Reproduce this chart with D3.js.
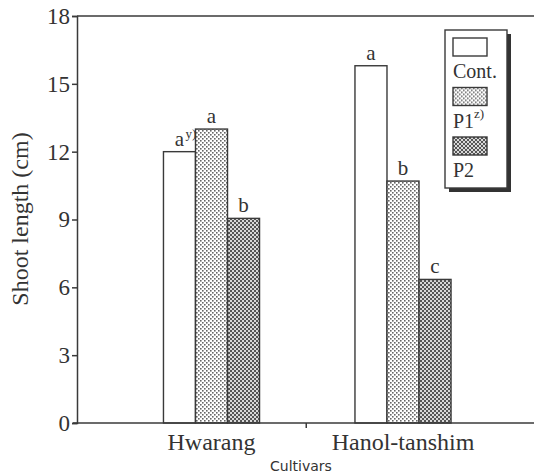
<!DOCTYPE html>
<html>
<head>
<meta charset="utf-8">
<script src="https://cdn.jsdelivr.net/npm/d3@7"></script>
<style>
  body { margin: 0; background: #fff; }
  svg text { font-family: "Liberation Serif", "Times New Roman", serif; fill: #333; }
</style>
</head>
<body>
<svg id="chart" width="534" height="476"></svg>
<script>
// values
var cultivars = ["Hwarang", "Hanol-tanshim"];
var treatments = ["Cont.", "P1", "P2"];
var hwarang = [12.0, 13.0, 9.05];
var hanolTanshim = [15.8, 10.7, 6.35];
var letters = [["a", "a", "b"], ["a", "b", "c"]];
var yTicks = [0, 3, 6, 9, 12, 15, 18];

var values = [hwarang, hanolTanshim];
var data = [];
cultivars.forEach(function(c, i) {
  treatments.forEach(function(t, j) {
    data.push({ cultivar: c, treatment: t, value: values[i][j], letter: letters[i][j] });
  });
});

var svg = d3.select("#chart");
var plotLeft = 77, plotRight = 534, plotTop = 16, plotBottom = 423;
var ink = "#3a3a3a";

var defs = svg.append("defs");
var p1 = defs.append("pattern").attr("id", "p1").attr("patternUnits", "userSpaceOnUse")
  .attr("width", 4).attr("height", 4);
p1.append("rect").attr("width", 4).attr("height", 4).attr("fill", "#fff");
p1.append("rect").attr("x", 0).attr("y", 0).attr("width", 1.6).attr("height", 1.6).attr("fill", "#666");
p1.append("rect").attr("x", 2).attr("y", 2).attr("width", 1.6).attr("height", 1.6).attr("fill", "#666");

var p2 = defs.append("pattern").attr("id", "p2").attr("patternUnits", "userSpaceOnUse")
  .attr("width", 4).attr("height", 4);
p2.append("rect").attr("width", 4).attr("height", 4).attr("fill", "#d8d8d8");
p2.append("rect").attr("x", 0).attr("y", 0).attr("width", 2).attr("height", 2).attr("fill", "#555");
p2.append("rect").attr("x", 2).attr("y", 2).attr("width", 2).attr("height", 2).attr("fill", "#555");

var fills = d3.scaleOrdinal().domain(treatments).range(["#fff", "url(#p1)", "url(#p2)"]);

var y = d3.scaleLinear().domain([0, 18]).range([plotBottom, plotTop]);
var x = d3.scaleBand().domain(cultivars).range([115.75, 498.75]).paddingInner(0).paddingOuter(0);
var xs = d3.scaleBand().domain(treatments).range([0, x.bandwidth()]).paddingInner(0).paddingOuter(1.49);

// top frame line
svg.append("line").attr("x1", plotLeft).attr("x2", plotRight).attr("y1", plotTop).attr("y2", plotTop)
  .attr("stroke", ink).attr("stroke-width", 1.5);

// bars
svg.selectAll(".bar").data(data).enter().append("rect")
  .attr("class", "bar")
  .attr("x", function(d) { return x(d.cultivar) + xs(d.treatment); })
  .attr("y", function(d) { return y(d.value); })
  .attr("width", xs.bandwidth())
  .attr("height", function(d) { return y(0) - y(d.value); })
  .attr("fill", function(d) { return fills(d.treatment); })
  .attr("stroke", ink).attr("stroke-width", 1.4);

// significance letters
svg.selectAll(".letter").data(data).enter().append("text")
  .attr("class", "letter")
  .attr("x", function(d) { return x(d.cultivar) + xs(d.treatment) + xs.bandwidth() / 2; })
  .attr("y", function(d) { return y(d.value) - 6; })
  .attr("text-anchor", "middle")
  .style("font-size", "21px")
  .text(function(d) { return d.letter; });

svg.append("text")
  .attr("x", x(cultivars[0]) + xs(treatments[0]) + xs.bandwidth() / 2 + 6)
  .attr("y", y(hwarang[0]) - 14)
  .style("font-size", "13px")
  .text("y)");

// y axis
var yAxis = svg.append("g")
  .attr("transform", "translate(" + plotLeft + ",0)")
  .call(d3.axisLeft(y).tickValues(yTicks).tickSize(5).tickPadding(2));
yAxis.select(".domain").attr("stroke", ink).attr("stroke-width", 1.5);
yAxis.selectAll(".tick line").attr("stroke", ink).attr("stroke-width", 1.5);
yAxis.selectAll(".tick text").style("font-size", "23px").attr("fill", "#333")
  .style("font-family", "Liberation Serif, serif");

// x axis
svg.append("line").attr("x1", plotLeft - 4).attr("x2", plotRight).attr("y1", plotBottom).attr("y2", plotBottom)
  .attr("stroke", ink).attr("stroke-width", 1.5);
svg.append("line")
  .attr("x1", x(cultivars[1]) - 1).attr("x2", x(cultivars[1]) - 1)
  .attr("y1", plotBottom).attr("y2", plotBottom + 5)
  .attr("stroke", ink).attr("stroke-width", 1.5);

svg.selectAll(".xlab").data(cultivars).enter().append("text")
  .attr("class", "xlab")
  .attr("x", function(d) { return x(d) + x.bandwidth() / 2; })
  .attr("y", 450)
  .attr("text-anchor", "middle")
  .style("font-size", "24px")
  .text(function(d) { return d; });

svg.append("text")
  .attr("x", 270).attr("y", 471)
  .style("font-family", "DejaVu Sans, sans-serif")
  .style("font-size", "14px")
  .text("Cultivars");

svg.append("text")
  .attr("transform", "translate(28,219) rotate(-90)")
  .attr("text-anchor", "middle")
  .style("font-size", "24px")
  .text("Shoot length (cm)");

// legend
var lg = svg.append("g").attr("transform", "translate(445,30)");
lg.append("rect").attr("x", 4).attr("y", 4).attr("width", 62).attr("height", 158).attr("fill", "#333");
lg.append("rect").attr("x", 0).attr("y", 0).attr("width", 62).attr("height", 158)
  .attr("fill", "#fff").attr("stroke", ink).attr("stroke-width", 1.4);
var li = lg.selectAll(".li").data(treatments).enter().append("g")
  .attr("transform", function(d, i) { return "translate(8," + (8 + i * 49.5) + ")"; });
li.append("rect").attr("width", 34).attr("height", 18)
  .attr("fill", function(d) { return fills(d); })
  .attr("stroke", ink).attr("stroke-width", 1.4);
li.append("text").attr("x", 0).attr("y", 40).style("font-size", "20px")
  .text(function(d) { return d; });
li.filter(function(d) { return d === "P1"; }).append("text")
  .attr("x", 21).attr("y", 30).style("font-size", "13px").text("z)");
</script>
</body>
</html>
